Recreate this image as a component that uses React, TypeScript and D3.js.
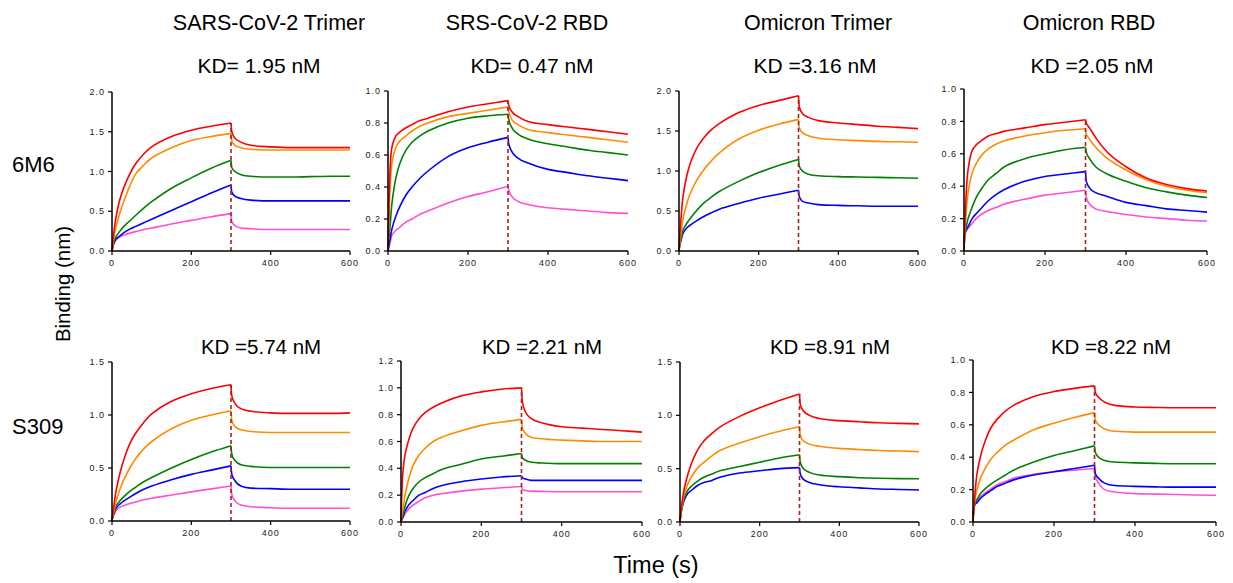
import React from "react";
import * as d3 from "d3";

// ---------- data ----------
const TIMES = [0, 2, 5, 10, 20, 30, 45, 60, 80, 100, 150, 200, 250, 300, 302, 310, 325, 350, 400, 450, 500, 550, 600];
const X_TICKS = [0, 200, 400, 600];
const COLORS = { red: "#ff0000", orange: "#ff8c00", green: "#008000", blue: "#0000ff", pink: "#ff4fd2" };

const TITLES = ["SARS-CoV-2 Trimer", "SRS-CoV-2 RBD", "Omicron Trimer", "Omicron RBD"];
const KD_6M6 = ["KD= 1.95 nM", "KD= 0.47 nM", "KD =3.16 nM", "KD =2.05 nM"];
const KD_S309 = ["KD =5.74 nM", "KD =2.21 nM", "KD =8.91 nM", "KD =8.22 nM"];
const ROW_LABELS = ["6M6", "S309"];
const Y_MAX = [2.0, 1.0, 2.0, 1.0, 1.5, 1.2, 1.5, 1.0];
const Y_STEP = [0.5, 0.2, 0.5, 0.2, 0.5, 0.2, 0.5, 0.2];

// panel 1: SARS-CoV-2 Trimer / 6M6
const p1_red = [0, 0.12, 0.25, 0.42, 0.65, 0.8, 0.97, 1.1, 1.22, 1.31, 1.44, 1.52, 1.57, 1.61, 1.5, 1.42, 1.37, 1.33, 1.31, 1.3, 1.3, 1.3, 1.3];
const p1_orange = [0, 0.08, 0.18, 0.3, 0.48, 0.63, 0.82, 0.97, 1.08, 1.17, 1.3, 1.39, 1.44, 1.48, 1.38, 1.33, 1.3, 1.28, 1.27, 1.27, 1.27, 1.27, 1.27];
const p1_green = [0, 0.06, 0.12, 0.18, 0.25, 0.31, 0.38, 0.45, 0.54, 0.62, 0.79, 0.92, 1.04, 1.14, 1.05, 1.0, 0.96, 0.94, 0.93, 0.93, 0.935, 0.94, 0.94];
const p1_blue = [0, 0.05, 0.1, 0.15, 0.19, 0.23, 0.275, 0.31, 0.355, 0.4, 0.51, 0.62, 0.73, 0.83, 0.74, 0.69, 0.66, 0.64, 0.63, 0.63, 0.63, 0.63, 0.63];
const p1_pink = [0, 0.05, 0.1, 0.14, 0.18, 0.2, 0.225, 0.245, 0.27, 0.29, 0.34, 0.385, 0.43, 0.47, 0.37, 0.32, 0.29, 0.28, 0.27, 0.27, 0.27, 0.27, 0.27];

// panel 2: SRS-CoV-2 RBD / 6M6
const p2_red = [0, 0.25, 0.5, 0.65, 0.72, 0.745, 0.77, 0.79, 0.815, 0.83, 0.87, 0.9, 0.92, 0.94, 0.91, 0.87, 0.84, 0.81, 0.79, 0.775, 0.76, 0.745, 0.73];
const p2_orange = [0, 0.18, 0.38, 0.55, 0.65, 0.69, 0.72, 0.75, 0.78, 0.8, 0.84, 0.86, 0.88, 0.9, 0.87, 0.82, 0.79, 0.76, 0.74, 0.725, 0.71, 0.695, 0.68];
const p2_green = [0, 0.07, 0.15, 0.3, 0.46, 0.55, 0.63, 0.68, 0.72, 0.75, 0.8, 0.83, 0.845, 0.855, 0.82, 0.77, 0.73, 0.7, 0.67, 0.65, 0.63, 0.615, 0.6];
const p2_blue = [0, 0.03, 0.07, 0.14, 0.22, 0.28, 0.35, 0.4, 0.455, 0.5, 0.59, 0.645, 0.68, 0.71, 0.67, 0.62, 0.58, 0.55, 0.51, 0.49, 0.47, 0.455, 0.44];
const p2_pink = [0, 0.02, 0.05, 0.1, 0.13, 0.15, 0.18, 0.2, 0.23, 0.25, 0.3, 0.34, 0.37, 0.405, 0.38, 0.34, 0.31, 0.29, 0.27, 0.26, 0.25, 0.24, 0.235];

// panel 3: Omicron Trimer / 6M6
const p3_red = [0, 0.18, 0.4, 0.68, 0.95, 1.12, 1.29, 1.4, 1.51, 1.59, 1.73, 1.82, 1.88, 1.94, 1.8, 1.72, 1.67, 1.63, 1.6, 1.58, 1.56, 1.545, 1.53];
const p3_orange = [0, 0.1, 0.22, 0.4, 0.6, 0.74, 0.89, 1.0, 1.12, 1.22, 1.4, 1.51, 1.585, 1.645, 1.54, 1.48, 1.44, 1.41, 1.39, 1.38, 1.37, 1.365, 1.36];
const p3_green = [0, 0.08, 0.15, 0.26, 0.35, 0.42, 0.51, 0.59, 0.67, 0.74, 0.87, 0.98, 1.07, 1.145, 1.06, 1.0, 0.96, 0.94, 0.93, 0.925, 0.92, 0.915, 0.91];
const p3_blue = [0, 0.07, 0.13, 0.22, 0.29, 0.33, 0.38, 0.425, 0.475, 0.52, 0.595, 0.66, 0.71, 0.76, 0.68, 0.62, 0.6, 0.58, 0.57, 0.565, 0.56, 0.56, 0.56];

// panel 4: Omicron RBD / 6M6
const p4_red = [0, 0.15, 0.33, 0.5, 0.62, 0.655, 0.685, 0.71, 0.725, 0.74, 0.76, 0.78, 0.795, 0.81, 0.79, 0.76, 0.7, 0.62, 0.52, 0.45, 0.41, 0.385, 0.37];
const p4_orange = [0, 0.12, 0.22, 0.36, 0.48, 0.54, 0.595, 0.63, 0.66, 0.68, 0.71, 0.73, 0.745, 0.755, 0.72, 0.69, 0.64, 0.58, 0.5, 0.44, 0.4, 0.375, 0.36];
const p4_green = [0, 0.1, 0.14, 0.2, 0.27, 0.33, 0.39, 0.44, 0.48, 0.52, 0.57, 0.6, 0.625, 0.64, 0.61, 0.57, 0.52, 0.48, 0.43, 0.39, 0.365, 0.345, 0.33];
const p4_blue = [0, 0.1, 0.13, 0.15, 0.2, 0.23, 0.27, 0.31, 0.35, 0.38, 0.43, 0.46, 0.475, 0.49, 0.43, 0.39, 0.36, 0.34, 0.3, 0.28, 0.26, 0.25, 0.24];
const p4_pink = [0, 0.1, 0.12, 0.14, 0.17, 0.2, 0.23, 0.25, 0.27, 0.29, 0.32, 0.345, 0.36, 0.375, 0.33, 0.29, 0.26, 0.245, 0.225, 0.21, 0.2, 0.19, 0.185];

// panel 5: SARS-CoV-2 Trimer / S309
const p5_red = [0, 0.07, 0.15, 0.28, 0.45, 0.58, 0.73, 0.83, 0.93, 1.01, 1.13, 1.2, 1.25, 1.286, 1.18, 1.11, 1.06, 1.035, 1.02, 1.015, 1.015, 1.015, 1.02];
const p5_orange = [0, 0.05, 0.1, 0.18, 0.3, 0.39, 0.5, 0.59, 0.68, 0.75, 0.87, 0.95, 1.0, 1.04, 0.95, 0.89, 0.86, 0.845, 0.835, 0.835, 0.835, 0.835, 0.835];
const p5_green = [0, 0.05, 0.08, 0.14, 0.19, 0.23, 0.28, 0.32, 0.37, 0.41, 0.5, 0.58, 0.65, 0.71, 0.63, 0.57, 0.53, 0.515, 0.505, 0.505, 0.505, 0.505, 0.505];
const p5_blue = [0, 0.04, 0.07, 0.12, 0.16, 0.19, 0.225, 0.26, 0.3, 0.33, 0.39, 0.44, 0.48, 0.52, 0.44, 0.38, 0.33, 0.31, 0.305, 0.3, 0.3, 0.3, 0.3];
const p5_pink = [0, 0.04, 0.06, 0.1, 0.13, 0.145, 0.165, 0.18, 0.2, 0.215, 0.245, 0.275, 0.303, 0.33, 0.25, 0.19, 0.15, 0.135, 0.125, 0.12, 0.12, 0.12, 0.12];

// panel 6: SRS-CoV-2 RBD / S309
const p6_red = [0, 0.2, 0.38, 0.5, 0.62, 0.7, 0.77, 0.815, 0.855, 0.885, 0.94, 0.97, 0.99, 1.0, 0.9, 0.82, 0.77, 0.74, 0.71, 0.7, 0.69, 0.68, 0.67];
const p6_orange = [0, 0.05, 0.1, 0.2, 0.33, 0.42, 0.5, 0.55, 0.6, 0.63, 0.68, 0.72, 0.745, 0.765, 0.7, 0.66, 0.63, 0.62, 0.61, 0.605, 0.6, 0.6, 0.6];
const p6_green = [0, 0.03, 0.06, 0.12, 0.2, 0.25, 0.3, 0.33, 0.36, 0.39, 0.43, 0.47, 0.49, 0.51, 0.48, 0.46, 0.445, 0.44, 0.435, 0.435, 0.435, 0.435, 0.435];
const p6_blue = [0, 0.02, 0.04, 0.08, 0.13, 0.16, 0.2, 0.22, 0.25, 0.27, 0.3, 0.32, 0.335, 0.345, 0.33, 0.32, 0.31, 0.31, 0.31, 0.31, 0.31, 0.31, 0.31];
const p6_pink = [0, 0.015, 0.03, 0.06, 0.1, 0.125, 0.155, 0.18, 0.2, 0.21, 0.23, 0.245, 0.255, 0.265, 0.245, 0.235, 0.23, 0.228, 0.225, 0.225, 0.225, 0.225, 0.225];

// panel 7: Omicron Trimer / S309
const p7_red = [0, 0.08, 0.18, 0.3, 0.45, 0.56, 0.68, 0.76, 0.83, 0.89, 0.99, 1.07, 1.14, 1.2, 1.1, 1.04, 1.0, 0.97, 0.95, 0.94, 0.93, 0.925, 0.92];
const p7_orange = [0, 0.07, 0.15, 0.25, 0.36, 0.43, 0.51, 0.56, 0.62, 0.67, 0.74, 0.8, 0.85, 0.895, 0.81, 0.76, 0.73, 0.71, 0.69, 0.68, 0.67, 0.665, 0.66];
const p7_green = [0, 0.07, 0.13, 0.22, 0.3, 0.34, 0.385, 0.42, 0.45, 0.48, 0.52, 0.56, 0.6, 0.63, 0.56, 0.5, 0.465, 0.44, 0.425, 0.415, 0.41, 0.407, 0.405];
const p7_blue = [0, 0.07, 0.13, 0.2, 0.27, 0.3, 0.345, 0.37, 0.39, 0.42, 0.46, 0.48, 0.5, 0.51, 0.45, 0.4, 0.37, 0.35, 0.33, 0.32, 0.31, 0.305, 0.3];

// panel 8: Omicron RBD / S309
const p8_red = [0, 0.09, 0.18, 0.3, 0.42, 0.5, 0.585, 0.635, 0.685, 0.72, 0.775, 0.805, 0.825, 0.84, 0.8, 0.77, 0.74, 0.72, 0.71, 0.707, 0.705, 0.705, 0.705];
const p8_orange = [0, 0.08, 0.14, 0.2, 0.28, 0.33, 0.39, 0.43, 0.475, 0.505, 0.57, 0.61, 0.645, 0.675, 0.63, 0.6, 0.575, 0.56, 0.555, 0.555, 0.555, 0.555, 0.555];
const p8_green = [0, 0.08, 0.12, 0.14, 0.18, 0.205, 0.235, 0.26, 0.29, 0.32, 0.37, 0.41, 0.44, 0.47, 0.43, 0.4, 0.38, 0.37, 0.365, 0.362, 0.36, 0.36, 0.36];
const p8_blue = [0, 0.08, 0.11, 0.12, 0.15, 0.17, 0.195, 0.22, 0.24, 0.26, 0.29, 0.31, 0.33, 0.35, 0.3, 0.27, 0.24, 0.225, 0.22, 0.217, 0.215, 0.215, 0.215];
const p8_pink = [0, 0.08, 0.11, 0.13, 0.16, 0.18, 0.205, 0.23, 0.25, 0.27, 0.295, 0.31, 0.32, 0.33, 0.28, 0.24, 0.2, 0.185, 0.175, 0.172, 0.17, 0.167, 0.165];

type S = { color: string; values: number[] };
const PANEL_SERIES: S[][] = [
  [{ color: COLORS.pink, values: p1_pink }, { color: COLORS.blue, values: p1_blue }, { color: COLORS.green, values: p1_green }, { color: COLORS.orange, values: p1_orange }, { color: COLORS.red, values: p1_red }],
  [{ color: COLORS.pink, values: p2_pink }, { color: COLORS.blue, values: p2_blue }, { color: COLORS.green, values: p2_green }, { color: COLORS.orange, values: p2_orange }, { color: COLORS.red, values: p2_red }],
  [{ color: COLORS.blue, values: p3_blue }, { color: COLORS.green, values: p3_green }, { color: COLORS.orange, values: p3_orange }, { color: COLORS.red, values: p3_red }],
  [{ color: COLORS.pink, values: p4_pink }, { color: COLORS.blue, values: p4_blue }, { color: COLORS.green, values: p4_green }, { color: COLORS.orange, values: p4_orange }, { color: COLORS.red, values: p4_red }],
  [{ color: COLORS.pink, values: p5_pink }, { color: COLORS.blue, values: p5_blue }, { color: COLORS.green, values: p5_green }, { color: COLORS.orange, values: p5_orange }, { color: COLORS.red, values: p5_red }],
  [{ color: COLORS.pink, values: p6_pink }, { color: COLORS.blue, values: p6_blue }, { color: COLORS.green, values: p6_green }, { color: COLORS.orange, values: p6_orange }, { color: COLORS.red, values: p6_red }],
  [{ color: COLORS.blue, values: p7_blue }, { color: COLORS.green, values: p7_green }, { color: COLORS.orange, values: p7_orange }, { color: COLORS.red, values: p7_red }],
  [{ color: COLORS.pink, values: p8_pink }, { color: COLORS.blue, values: p8_blue }, { color: COLORS.green, values: p8_green }, { color: COLORS.orange, values: p8_orange }, { color: COLORS.red, values: p8_red }],
];

// ---------- layout ----------
const LAYOUT = [
  { x0: 112, x1: 350, yTop: 92, yBot: 251 },
  { x0: 388, x1: 628, yTop: 91, yBot: 251 },
  { x0: 679, x1: 918, yTop: 91, yBot: 251 },
  { x0: 964, x1: 1207, yTop: 89, yBot: 251 },
  { x0: 112, x1: 350, yTop: 362, yBot: 521 },
  { x0: 401, x1: 642, yTop: 361, yBot: 522 },
  { x0: 680, x1: 919, yTop: 362, yBot: 522 },
  { x0: 973, x1: 1216, yTop: 360, yBot: 522 },
];
const TITLE_X = [269, 527, 818, 1089];
const KD1_X = [259, 532, 815, 1092];
const KD2_X = [261, 542, 830, 1111];

const FONT = "'Liberation Sans', Arial, sans-serif";
const SWITCH = 300;

function Panel({ idx }: { idx: number }) {
  const L = LAYOUT[idx];
  const x = d3.scaleLinear().domain([0, 600]).range([L.x0, L.x1]);
  const y = d3.scaleLinear().domain([0, Y_MAX[idx]]).range([L.yBot, L.yTop]);
  const yTicks = d3.range(0, Y_MAX[idx] + 1e-9, Y_STEP[idx]);
  const assoc = d3
    .line<[number, number]>()
    .x((d) => x(d[0]))
    .y((d) => y(d[1]))
    .curve(d3.curveCatmullRom.alpha(0.5));
  const dissoc = d3
    .line<[number, number]>()
    .x((d) => x(d[0]))
    .y((d) => y(d[1]))
    .curve(d3.curveMonotoneX);
  const series = PANEL_SERIES[idx];
  const iSwitch = TIMES.indexOf(SWITCH);
  const peak = d3.max(series, (s) => s.values[iSwitch]) as number;
  return (
    <g>
      {series.map((s, i) => {
        const pts: [number, number][] = s.values.map((v, k) => [TIMES[k], v]);
        const a = pts.filter((p) => p[0] <= SWITCH);
        const b = pts.filter((p) => p[0] >= SWITCH);
        return (
          <g key={i} fill="none" stroke={s.color} strokeWidth={1.6} strokeLinejoin="round">
            <path d={assoc(a) || ""} />
            <path d={dissoc(b) || ""} />
          </g>
        );
      })}
      <line x1={x(SWITCH)} x2={x(SWITCH)} y1={y(0)} y2={y(peak)} stroke="#a82020" strokeWidth={1.6} strokeDasharray="4,3" />
      {/* axes */}
      <line x1={L.x0} x2={L.x0} y1={L.yBot} y2={L.yTop} stroke="#000" strokeWidth={1.5} />
      <line x1={L.x0} x2={L.x1} y1={L.yBot} y2={L.yBot} stroke="#000" strokeWidth={1.5} />
      {yTicks.map((t) => (
        <g key={"y" + t}>
          <line x1={L.x0 - 4} x2={L.x0} y1={y(t)} y2={y(t)} stroke="#000" strokeWidth={1.2} />
          <text x={L.x0 - 7} y={y(t)} dy="0.35em" textAnchor="end" fontSize={9} letterSpacing={1} fill="#222" fontFamily={FONT}>
            {d3.format(".1f")(t)}
          </text>
        </g>
      ))}
      {X_TICKS.map((t) => (
        <g key={"x" + t}>
          <line x1={x(t)} x2={x(t)} y1={L.yBot} y2={L.yBot + 4} stroke="#000" strokeWidth={1.2} />
          <text x={x(t)} y={L.yBot + 15} textAnchor="middle" fontSize={9} letterSpacing={1} fill="#222" fontFamily={FONT}>
            {t}
          </text>
        </g>
      ))}
    </g>
  );
}

export default function App() {
  return (
    <div style={{ position: "absolute", left: 0, top: 0 }}>
      <svg width={1233} height={583} style={{ display: "block", background: "#fff" }} fontFamily={FONT}>
        {TITLES.map((t, i) => (
          <text key={t} x={TITLE_X[i]} y={30} textAnchor="middle" fontSize={21.5} fill="#000">
            {t}
          </text>
        ))}
        {KD_6M6.map((t, i) => (
          <text key={t} x={KD1_X[i]} y={73} textAnchor="middle" fontSize={21} fill="#000">
            {t}
          </text>
        ))}
        {KD_S309.map((t, i) => (
          <text key={t} x={KD2_X[i]} y={354} textAnchor="middle" fontSize={20.5} fill="#000">
            {t}
          </text>
        ))}
        <text x={12} y={172} fontSize={22} fill="#000">{ROW_LABELS[0]}</text>
        <text x={12} y={434} fontSize={22} fill="#000">{ROW_LABELS[1]}</text>
        <text transform="translate(70,284) rotate(-90)" textAnchor="middle" fontSize={20.5} fill="#000">
          Binding (nm)
        </text>
        <text x={656} y={573} textAnchor="middle" fontSize={23.5} fill="#000">
          Time (s)
        </text>
        {LAYOUT.map((_, i) => (
          <Panel key={i} idx={i} />
        ))}
      </svg>
    </div>
  );
}
